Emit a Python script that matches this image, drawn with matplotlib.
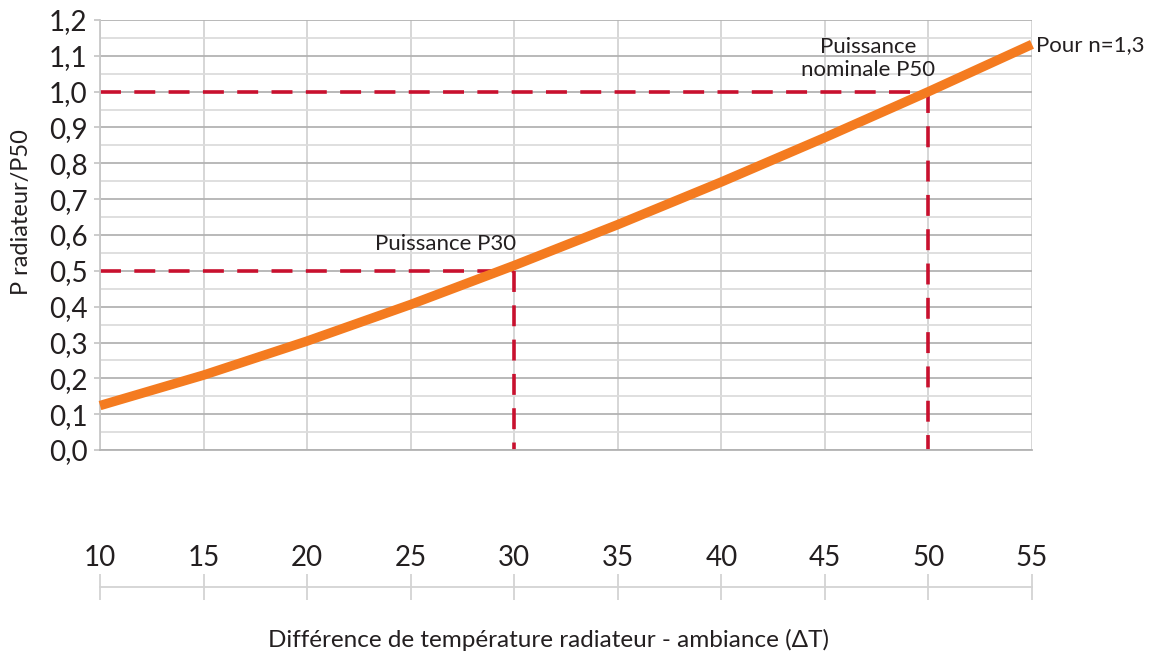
import numpy as np
import matplotlib
matplotlib.use("Agg")
import matplotlib.pyplot as plt
from matplotlib.ticker import MultipleLocator

plt.rcParams['font.family'] = ['Lato', 'DejaVu Sans']

# values
delta_t = [10, 15, 20, 25, 30, 35, 40, 45, 50, 55]
p_ratio = [0.124, 0.209, 0.304, 0.406, 0.515, 0.629, 0.748, 0.872, 1.0, 1.132]
y_ticks = [0.0, 0.1, 0.2, 0.3, 0.4, 0.5, 0.6, 0.7, 0.8, 0.9, 1.0, 1.1, 1.2]
y_tick_labels = ["0,0", "0,1", "0,2", "0,3", "0,4", "0,5", "0,6", "0,7", "0,8", "0,9", "1,0", "1,1", "1,2"]
x_ticks = [10, 15, 20, 25, 30, 35, 40, 45, 50, 55]
p30_x, p30_y = 30, 0.5
p50_x, p50_y = 50, 1.0

text_col = "#231f20"
red = "#c8102e"
orange = "#f47b20"

W, H = 1161, 657
fig = plt.figure(figsize=(W / 100, H / 100), dpi=100)

left, right, top, bottom = 100, 1032, 20, 450
ax = fig.add_axes([left / W, 1 - bottom / H, (right - left) / W, (bottom - top) / H])
ax.set_xlim(10, 55)
ax.set_ylim(0, 1.2)

# grid
ax.yaxis.set_minor_locator(MultipleLocator(0.05))
ax.set_xticks(x_ticks)
ax.grid(axis="y", which="major", color="#b3b3b3", lw=1.3, zorder=0)
ax.grid(axis="y", which="minor", color="#dcdcdc", lw=1.3, zorder=0)
ax.grid(axis="x", which="major", color="#d3d3d3", lw=1.3, zorder=0)
ax.set_axisbelow(True)
for s in ["top", "right"]:
    ax.spines[s].set_visible(False)
ax.spines["left"].set_color("#c8c8c8")
ax.spines["bottom"].set_color("#b3b3b3")
ax.spines["left"].set_linewidth(1.3)
ax.spines["bottom"].set_linewidth(1.3)

ax.set_yticks(y_ticks)
ax.set_yticklabels(y_tick_labels)
ax.tick_params(axis="y", which="major", length=4, width=1.3, color="#c8c8c8",
               labelsize=20, labelcolor=text_col, pad=5)
ax.tick_params(axis="y", which="minor", length=0)
ax.tick_params(axis="x", length=0, labelbottom=False)

# reference lines
dash = (5.8, 3.7)
ax.plot([10, p50_x], [p50_y, p50_y], color=red, lw=2.6, dashes=dash, zorder=2)
ax.plot([p50_x, p50_x], [p50_y, 0], color=red, lw=2.6, dashes=dash, zorder=2)
ax.plot([10, p30_x], [p30_y, p30_y], color=red, lw=2.6, dashes=dash, zorder=2)
ax.plot([p30_x, p30_x], [p30_y, 0], color=red, lw=2.6, dashes=dash, zorder=2)

# curve
ax.plot(delta_t, p_ratio, color=orange, lw=6.8, solid_capstyle="butt", zorder=3, clip_on=False)

ax.text(55.2, 1.13, "Pour n=1,3", fontsize=16, color=text_col, ha="left", va="center")
ax.text(47.1, 1.092, "Puissance\nnominale P50", fontsize=16, color=text_col,
        ha="center", va="center", linespacing=1.2)
ax.text(26.7, 0.575, "Puissance P30", fontsize=16, color=text_col, ha="center", va="center")

ax.set_ylabel("P radiateur/P50", fontsize=17, color=text_col)
ax.yaxis.set_label_coords(-0.073, 0.553)

# separate x axis below the chart
ax2 = fig.add_axes([left / W, 1 - 588 / H, (right - left) / W, 0.001])
ax2.set_xlim(10, 55)
ax2.set_yticks([])
for s in ["left", "right", "bottom"]:
    ax2.spines[s].set_visible(False)
ax2.spines["top"].set_color("#d3d3d3")
ax2.spines["top"].set_linewidth(1.3)
ax2.patch.set_visible(False)
ax2.xaxis.tick_top()
ax2.set_xticks(x_ticks)
ax2.tick_params(axis="x", direction="inout", length=19, width=1.3, color="#d3d3d3",
                labelsize=20, labelcolor=text_col, pad=2)

fig.text(548 / W, 1 - 640 / H, "Différence de température radiateur - ambiance (ΔT)",
         fontsize=17.5, color=text_col, ha="center", va="center")

fig.savefig("out.png", dpi=100)
